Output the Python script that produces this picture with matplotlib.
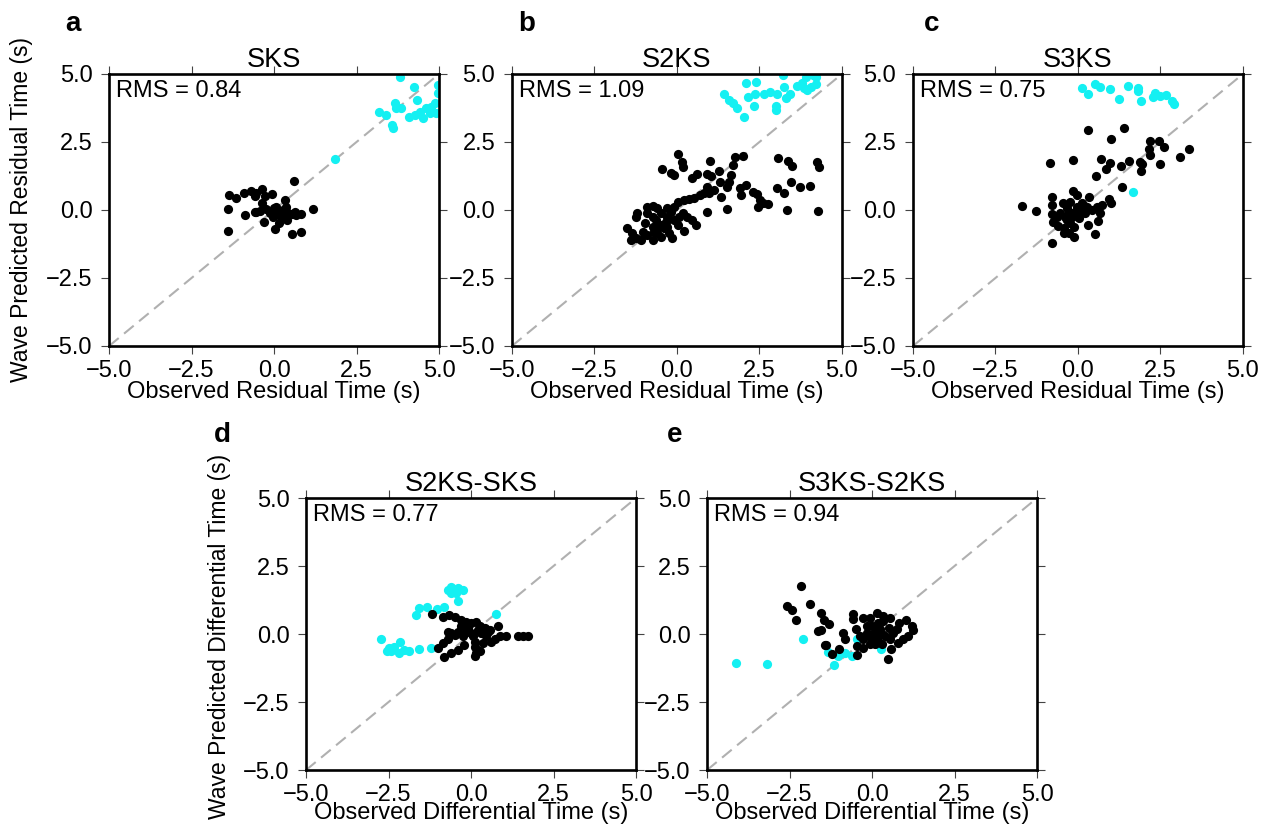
import numpy as np
import matplotlib.pyplot as plt

plt.rcParams['font.family'] = ['Liberation Sans', 'DejaVu Sans']
plt.rcParams['lines.scale_dashes'] = False

# ---- data: (observed, predicted) pairs ----
sks_black = [(0.61, 1.08), (-1.36, 0.55), (-1.16, 0.43), (-0.92, 0.61), (-0.69, 0.70),
             (-0.54, 0.64), (-0.36, 0.76), (-0.59, 0.51), (-0.28, 0.51), (-0.05, 0.59),
             (-0.36, 0.27), (0.34, 0.37), (-1.39, 0.05), (-0.87, -0.20), (-0.58, -0.07),
             (-0.43, -0.02), (-0.23, 0.02), (-0.13, -0.12), (-0.01, 0.06), (0.07, -0.06),
             (0.17, -0.15), (0.27, 0.00), (0.37, 0.12), (0.42, -0.10), (0.53, -0.15),
             (0.63, -0.06), (0.83, -0.15), (1.18, 0.04), (-0.29, -0.45), (0.14, -0.47),
             (0.04, -0.70), (0.40, -0.37), (-1.41, -0.77), (0.54, -0.88), (0.83, -0.82),
             (-0.03, -0.25), (0.22, -0.25), (0.68, -0.18), (-0.54, -0.06), (0.07, 0.12)]
sks_cyan = [(1.84, 1.88), (3.81, 4.90), (4.23, 4.53), (4.97, 4.60), (4.34, 4.04),
            (3.66, 3.95), (3.69, 3.74), (3.84, 3.74), (3.18, 3.62), (3.40, 3.49),
            (3.58, 3.13), (3.60, 3.00), (4.09, 3.43), (4.26, 3.49), (4.41, 3.62),
            (4.52, 3.37), (4.62, 3.74), (4.77, 3.80), (4.87, 3.92), (4.92, 3.55),
            (4.72, 3.55), (4.97, 4.29)]

s2ks_black = [(0.02, 2.05), (0.15, 1.78), (0.17, 1.57), (-0.44, 1.52), (-0.19, 1.35),
              (-0.09, 1.29), (1.00, 1.81), (0.47, 1.16), (0.62, 1.31), (0.92, 1.32),
              (1.02, 1.26), (1.27, 1.45), (1.70, 1.65), (1.76, 1.94), (2.01, 1.99),
              (1.65, 1.29), (1.31, 1.02), (1.58, 1.04), (1.53, 0.86), (0.92, 0.86),
              (0.82, 0.64), (0.71, 0.55), (0.97, 0.61), (1.13, 0.74), (1.33, 0.49),
              (0.52, 0.43), (0.37, 0.39), (0.22, 0.37), (0.02, 0.31), (1.92, 0.80),
              (1.94, 0.55), (2.09, 0.92), (2.30, 0.67), (2.43, 0.59), (2.53, 0.37),
              (2.45, 0.12), (2.75, 0.22), (2.60, 0.25), (1.53, 0.02), (0.92, -0.09),
              (3.07, 1.90), (3.38, 1.80), (3.48, 1.62), (4.25, 1.78), (4.32, 1.57),
              (3.46, 1.04), (3.02, 0.82), (3.23, 0.64), (3.72, 0.83), (4.04, 0.88),
              (3.33, 0.00), (4.27, -0.02), (-0.90, 0.12), (-0.74, 0.15), (-1.20, -0.12),
              (-1.25, -0.25), (-0.97, -0.47), (-1.50, -0.65), (-1.35, -0.83), (-1.40, -1.10),
              (-1.25, -1.02), (-1.10, -1.10), (-0.90, -0.92), (-0.74, -1.10), (-0.69, -0.80),
              (-0.59, -0.61), (-0.49, -0.98), (-0.39, -0.67), (-0.64, -0.37), (-0.49, -0.12),
              (-0.29, -0.25), (-0.19, -0.06), (-0.09, 0.12), (-0.14, -1.04), (0.02, -0.55),
              (0.20, -0.77), (0.32, -0.25), (0.47, -0.37), (0.57, -0.55), (0.17, -0.12),
              (-0.29, -0.61), (-0.74, -0.61), (-1.04, -0.80), (-0.59, -0.86), (-0.34, -0.43),
              (-0.90, -0.12), (-0.09, -0.37), (-0.29, 0.06), (-0.59, 0.06), (-0.24, -0.86),
              (-0.49, -0.55), (-0.74, -0.25), (0.06, -0.25)]
s2ks_cyan = [(1.43, 4.26), (1.59, 4.04), (1.69, 3.95), (1.82, 3.74), (2.02, 3.43),
             (2.09, 4.66), (2.40, 4.72), (2.16, 4.17), (2.36, 4.26), (2.34, 3.82),
             (2.63, 4.26), (2.81, 4.35), (2.99, 3.82), (2.99, 3.68), (3.04, 4.26),
             (3.26, 4.53), (3.22, 4.96), (3.32, 4.11), (3.44, 4.26), (3.65, 4.56),
             (3.80, 4.66), (3.85, 4.47), (3.95, 4.41), (4.06, 4.53), (4.21, 4.63),
             (3.90, 4.90), (4.11, 4.96), (4.21, 4.90)]

s3ks_black = [(0.32, 2.94), (1.40, 3.03), (1.00, 2.60), (2.17, 2.55), (2.47, 2.55),
              (2.60, 2.30), (2.14, 2.23), (2.19, 2.02), (3.38, 2.25), (3.10, 1.96),
              (-0.84, 1.72), (-0.15, 1.84), (0.70, 1.89), (0.98, 1.74), (0.85, 1.51),
              (1.30, 1.62), (1.54, 1.80), (1.87, 1.78), (1.95, 1.68), (1.91, 1.43),
              (2.49, 1.68), (0.55, 1.25), (1.33, 0.86), (-0.15, 0.71), (-0.03, 0.54),
              (-0.79, 0.49), (0.35, 0.49), (0.95, 0.40), (-1.70, 0.15), (-1.28, -0.04),
              (-0.79, 0.18), (-0.79, -0.15), (-0.76, -0.43), (-0.59, -0.58), (-0.44, 0.25),
              (-0.33, 0.06), (-0.23, 0.31), (-0.18, -0.25), (-0.13, -0.61), (-0.08, -0.06),
              (0.07, 0.00), (0.12, 0.27), (0.22, -0.12), (0.42, 0.00), (0.58, 0.12),
              (0.68, -0.12), (0.60, -0.40), (0.32, -0.55), (0.53, -0.88), (1.00, 0.25),
              (0.73, 0.18), (-0.43, -0.86), (-0.28, -0.86), (-0.13, -0.98), (-0.79, -1.23),
              (-0.33, -0.37), (-0.23, -0.49), (-0.54, -0.12), (-0.64, -0.25), (-0.38, -0.25),
              (-0.28, -0.06), (0.02, -0.31), (-0.03, 0.12), (0.27, 0.12), (-0.43, -0.67)]
s3ks_cyan = [(0.12, 4.47), (0.29, 4.25), (0.53, 4.63), (0.68, 4.51), (0.98, 4.45),
             (1.25, 4.07), (1.52, 4.57), (1.82, 4.47), (1.82, 4.38), (1.91, 4.00),
             (2.29, 4.17), (2.35, 4.29), (2.49, 4.19), (2.67, 4.23), (2.85, 4.01),
             (2.90, 3.88), (1.67, 0.67)]

s2ks_sks_black = [(-1.19, 0.73), (-0.86, 0.64), (-0.66, 0.71), (-0.50, 0.64), (-0.30, 0.52),
                  (-0.15, 0.46), (0.01, 0.40), (0.16, 0.46), (0.26, 0.30), (0.41, 0.21),
                  (0.56, 0.15), (0.82, 0.31), (-0.30, 0.28), (-0.40, 0.09), (-0.50, -0.03),
                  (-0.60, 0.03), (-0.71, -0.19), (-0.86, -0.34), (-1.01, -0.50), (-0.81, -0.83),
                  (-0.60, -0.71), (-0.40, -0.58), (-0.20, -0.40), (-0.15, 0.09), (-0.10, 0.21),
                  (0.06, -0.09), (0.11, -0.28), (0.11, -0.46), (0.16, -0.68), (0.11, -0.79),
                  (0.26, -0.64), (0.31, 0.03), (0.46, -0.09), (0.61, -0.31), (0.72, -0.19),
                  (0.87, -0.07), (1.07, -0.09), (1.43, -0.07), (1.58, -0.07), (1.73, -0.09),
                  (0.01, 0.03), (0.21, 0.15), (-0.25, -0.09), (-0.71, 0.09), (0.51, 0.09),
                  (0.36, -0.34)]
s2ks_sks_cyan = [(-0.60, 1.72), (-0.71, 1.63), (-0.40, 1.69), (-0.25, 1.63), (-0.45, 1.50),
                 (-0.60, 1.50), (-0.40, 1.20), (-1.57, 0.95), (-1.32, 0.98), (-1.03, 0.91),
                 (-0.83, 0.99), (-1.67, 0.71), (0.77, 0.73), (-2.74, -0.18), (-2.49, -0.50),
                 (-2.56, -0.61), (-2.33, -0.46), (-2.14, -0.31), (-2.18, -0.71), (-2.03, -0.58),
                 (-1.87, -0.61), (-1.57, -0.56), (-1.21, -0.52), (-2.43, -0.61)]

s3ks_s2ks_black = [(-2.16, 1.78), (-2.57, 1.03), (-2.44, 0.87), (-1.88, 1.09), (-2.29, 0.50),
                   (-1.56, 0.78), (-1.46, 0.51), (-1.30, 0.38), (-1.63, 0.11), (-1.56, 0.13),
                   (-1.43, -0.42), (-1.38, -0.42), (-1.22, -0.75), (-0.99, -0.54), (-0.87, 0.05),
                   (-0.82, -0.17), (-0.59, 0.72), (-0.57, 0.54), (-0.50, 0.17), (-0.47, -0.78),
                   (-0.47, -0.44), (-0.26, 0.60), (-0.06, 0.60), (0.14, 0.78), (0.34, 0.66),
                   (0.55, 0.60), (0.83, 0.39), (1.03, 0.51), (1.20, 0.29), (1.23, 0.15),
                   (1.10, -0.07), (0.95, -0.20), (0.80, -0.32), (0.58, -0.56), (0.48, -0.93),
                   (-0.26, -0.50), (-0.06, -0.38), (-0.26, -0.20), (-0.16, 0.05), (-0.01, 0.29),
                   (0.04, -0.01), (0.14, -0.20), (0.24, 0.17), (0.39, -0.07), (0.50, 0.23),
                   (0.65, 0.05), (-0.06, -0.07), (0.09, -0.38), (0.29, -0.38), (0.19, 0.42),
                   (-0.16, 0.29), (0.55, -0.20), (0.34, 0.48), (0.75, 0.17), (0.14, 0.11),
                   (0.29, -0.01), (-0.01, -0.26), (-0.36, -0.07)]
s3ks_s2ks_cyan = [(-4.13, -1.08), (-3.18, -1.11), (-2.09, -0.17), (-1.33, -0.66), (-1.14, -1.14),
                  (-1.02, -0.81), (-0.82, -0.68), (-0.62, -0.81), (0.26, -0.56), (-0.47, -0.17)]

titles = ['SKS', 'S2KS', 'S3KS', 'S2KS-SKS', 'S3KS-S2KS']
rms_values = [0.84, 1.09, 0.75, 0.77, 0.94]
letters = ['a', 'b', 'c', 'd', 'e']
ticks = [-5.0, -2.5, 0.0, 2.5, 5.0]

fig = plt.figure(figsize=(12.71, 8.24), dpi=100)

# axes boxes [left, bottom, width, height] in figure fraction
boxes = [
    [0.0858, 0.5801, 0.2596, 0.3301],
    [0.4028, 0.5801, 0.2596, 0.3301],
    [0.7183, 0.5801, 0.2596, 0.3301],
    [0.2408, 0.0655, 0.2596, 0.3301],
    [0.5563, 0.0655, 0.2596, 0.3301],
]
black_sets = [sks_black, s2ks_black, s3ks_black, s2ks_sks_black, s3ks_s2ks_black]
cyan_sets = [sks_cyan, s2ks_cyan, s3ks_cyan, s2ks_sks_cyan, s3ks_s2ks_cyan]
letter_pos = [(0.051, 0.962), (0.408, 0.962), (0.727, 0.962), (0.168, 0.463), (0.525, 0.463)]

for i in range(5):
    ax = fig.add_axes(boxes[i])
    ax.set_xlim(-5, 5)
    ax.set_ylim(-5, 5)

    # 1:1 reference line
    ax.plot([-5, 5], [-5, 5], color='#b0b0b0', lw=1.5, dashes=(9, 5), zorder=1)

    cyan = np.array(cyan_sets[i])
    black = np.array(black_sets[i])
    ax.scatter(cyan[:, 0], cyan[:, 1], s=44, color='#14f0f2', linewidths=0, zorder=2)
    ax.scatter(black[:, 0], black[:, 1], s=44, color='black', linewidths=0, zorder=3)

    ax.set_xticks(ticks)
    ax.set_yticks(ticks)
    ax.tick_params(direction='out', length=6, width=0.8, color='#444444',
                   top=True, right=True, labelsize=17, pad=4)
    ax.tick_params(axis='y', pad=6)
    for sp in ax.spines.values():
        sp.set_linewidth(1.9)

    ax.text(0.5, 1.025, titles[i], transform=ax.transAxes, ha='center', va='baseline',
            fontsize=19.5)
    ax.text(0.022, 0.917, 'RMS = %.2f' % rms_values[i], transform=ax.transAxes,
            ha='left', va='baseline', fontsize=17)

    if i < 3:
        ax.text(0.5, -0.169, 'Observed Residual Time (s)', transform=ax.transAxes,
                ha='center', va='center', fontsize=17)
    else:
        ax.text(0.5, -0.157, 'Observed Differential Time (s)', transform=ax.transAxes,
                ha='center', va='center', fontsize=17)
    if i == 0:
        ax.text(-0.265, 0.5, 'Wave Predicted Residual Time (s)', transform=ax.transAxes,
                ha='center', va='center', rotation=90, fontsize=16.5)
    if i == 3:
        ax.text(-0.262, 0.49, 'Wave Predicted Differential Time (s)', transform=ax.transAxes,
                ha='center', va='center', rotation=90, fontsize=16.5)

    fig.text(letter_pos[i][0], letter_pos[i][1], letters[i], fontsize=20,
             fontweight='bold', ha='left', va='baseline')

plt.savefig('out.png', dpi=100)
